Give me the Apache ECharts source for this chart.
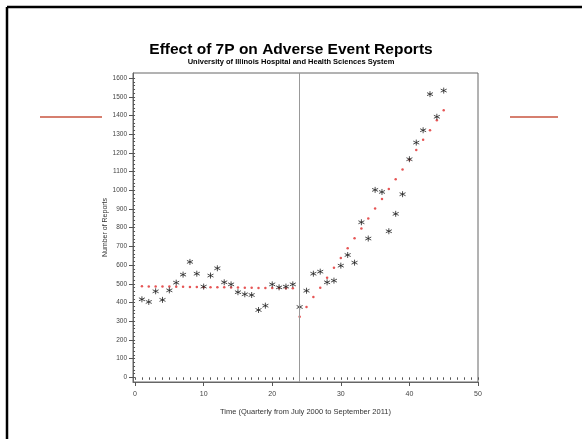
<!DOCTYPE html>
<html>
<head>
<meta charset="utf-8">
<script src="https://cdn.jsdelivr.net/npm/echarts@6/dist/echarts.min.js"></script>
<style>
  html, body { margin: 0; padding: 0; background: #fff; }
  #chart { width: 582px; height: 439px; }
</style>
</head>
<body>
<div id="chart"></div>
<script>
// quarters since July 2000
const quarters = [1, 2, 3, 4, 5, 6, 7, 8, 9, 10, 11, 12, 13, 14, 15, 16, 17, 18, 19, 20, 21, 22, 23,
  24, 25, 26, 27, 28, 29, 30, 31, 32, 33, 34, 35, 36, 37, 38, 39, 40, 41, 42, 43, 44, 45];

// observed adverse event reports
const observed = [417, 403, 460, 414, 465, 506, 549, 617, 554, 485, 544, 583, 508, 497, 455, 444, 440, 360, 383, 497, 481, 485, 497,
  376, 463, 554, 565, 508, 517, 597, 654, 613, 829, 742, 1002, 991, 781, 874, 979, 1166, 1255, 1321, 1514, 1393, 1533];

// fitted (segmented regression) values
const fitted = [487, 486, 486, 485, 485, 484, 484, 483, 483, 482, 482, 481, 481, 480, 480, 479, 479, 478, 478, 477, 477, 476, 476,
  324, 376, 430, 479, 533, 586, 638, 690, 744, 795, 849, 902, 954, 1007, 1059, 1111, 1163, 1216, 1270, 1321, 1375, 1428];

const interventionQuarter = 24;
const yTicks = [0, 100, 200, 300, 400, 500, 600, 700, 800, 900, 1000, 1100, 1200, 1300, 1400, 1500, 1600];
const xTicks = [0, 10, 20, 30, 40, 50];

const yMinor = [];
for (let v = 0; v <= 1600; v += 20) yMinor.push(v);
const xMinor = [];
for (let v = 0; v <= 50; v += 1) xMinor.push(v);

const chart = echarts.init(document.getElementById("chart"));

const asterisk = "path://M0,-5L0,5M-4.33,-2.5L4.33,2.5M-4.33,2.5L4.33,-2.5";
const font = "Liberation Sans";

chart.setOption({
  backgroundColor: "#fff",
  animation: false,
  title: {
    text: "Effect of 7P on Adverse Event Reports",
    subtext: "University of Illinois Hospital and Health Sciences System",
    left: "center",
    top: 37,
    itemGap: 0,
    textStyle: { fontFamily: font, fontSize: 15.5, fontWeight: "bold", color: "#000" },
    subtextStyle: { fontFamily: font, fontSize: 7.5, fontWeight: "bold", color: "#000" },
  },
  graphic: [
    { type: "line", shape: { x1: 7, y1: 7, x2: 582, y2: 7 }, style: { stroke: "#000", lineWidth: 2.5 } },
    { type: "line", shape: { x1: 7, y1: 7, x2: 7, y2: 439 }, style: { stroke: "#000", lineWidth: 2.5 } },
    { type: "line", shape: { x1: 40, y1: 117, x2: 102, y2: 117 }, style: { stroke: "#c9553f", lineWidth: 1.5 } },
    { type: "line", shape: { x1: 510, y1: 117, x2: 558, y2: 117 }, style: { stroke: "#c9553f", lineWidth: 1.5 } },
  ],
  grid: {
    left: 133,
    right: 104,
    top: 73,
    bottom: 57,
    show: true,
    borderColor: "#666",
    borderWidth: 1,
  },
  xAxis: [
    {
      type: "value",
      min: -0.3,
      max: 50,
      name: "Time (Quarterly from July 2000 to September 2011)",
      nameLocation: "middle",
      nameGap: 26,
      nameMoveOverlap: false,
      nameTextStyle: { fontFamily: font, fontSize: 7.5, color: "#333" },
      axisLine: { show: true, onZero: false, lineStyle: { color: "#666" } },
      axisTick: { show: true, length: 4, customValues: xTicks, lineStyle: { color: "#555" } },
      axisLabel: { customValues: xTicks, fontFamily: font, fontSize: 7, color: "#444", margin: 9 },
      splitLine: { show: false },
    },
    {
      type: "value",
      min: -0.3,
      max: 50,
      position: "bottom",
      axisLine: { show: false },
      axisTick: { show: true, length: 2.5, customValues: xMinor, lineStyle: { color: "#555" } },
      axisLabel: { show: false },
      splitLine: { show: false },
    },
  ],
  yAxis: [
    {
      type: "value",
      min: -25,
      max: 1627,
      name: "Number of Reports",
      nameLocation: "middle",
      nameGap: 24,
      nameMoveOverlap: false,
      nameTextStyle: { fontFamily: font, fontSize: 7, color: "#333" },
      axisLine: { show: true, onZero: false, lineStyle: { color: "#666" } },
      axisTick: { show: true, length: 4, customValues: yTicks, lineStyle: { color: "#555" } },
      axisLabel: {
        customValues: yTicks,
        formatter: (v) => String(v),
        fontFamily: font,
        fontSize: 6.5,
        color: "#444",
        margin: 6,
      },
      splitLine: { show: false },
    },
    {
      type: "value",
      min: -25,
      max: 1627,
      position: "left",
      axisLine: { show: false },
      axisTick: { show: true, length: 2, customValues: yMinor, lineStyle: { color: "#555" } },
      axisLabel: { show: false },
      splitLine: { show: false },
    },
  ],
  series: [
    {
      name: "Fitted",
      type: "scatter",
      symbol: "circle",
      symbolSize: 2.5,
      itemStyle: { color: "#e02a2a" },
      data: quarters.map((q, i) => [q, fitted[i]]),
      markLine: {
        silent: true,
        symbol: "none",
        label: { show: false },
        lineStyle: { color: "#999", type: "solid", width: 1 },
        data: [{ xAxis: interventionQuarter }],
      },
    },
    {
      name: "Observed",
      type: "scatter",
      symbol: asterisk,
      symbolSize: 6,
      itemStyle: { color: "none", borderColor: "#222", borderWidth: 1 },
      data: quarters.map((q, i) => [q, observed[i]]),
    },
  ],
});

window.addEventListener("resize", () => chart.resize());
</script>
</body>
</html>
